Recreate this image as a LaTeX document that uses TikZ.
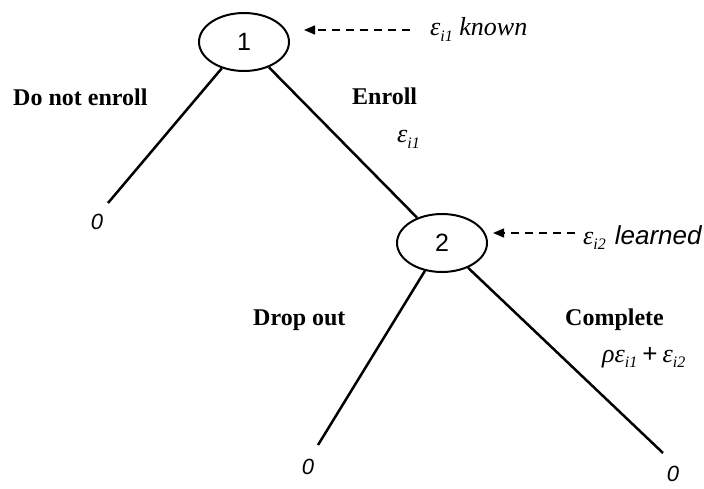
\documentclass[tikz,border=0pt]{standalone}
\usepackage{fontspec}
\setmainfont{Liberation Serif}
\setsansfont{Liberation Sans}
\usetikzlibrary{arrows.meta,shapes.geometric}
% small italic index set below the baseline
\newcommand\lowidx[1]{\raisebox{-0.45ex}{\fontsize{16}{16}\selectfont\itshape #1}}

\begin{document}
\begin{tikzpicture}[x=1pt,y=-1pt,
  choice/.style={ellipse, draw, line width=2pt, minimum width=90pt, minimum height=58pt,
    inner sep=0pt, font=\sffamily\fontsize{25}{25}\selectfont},
  branch/.style={line width=2.5pt},
  act/.style={font=\bfseries\fontsize{24}{24}\selectfont, anchor=base west, inner sep=0pt},
  pay/.style={font=\sffamily\itshape\fontsize{22}{22}\selectfont, inner sep=0pt},
  info/.style={font=\itshape\fontsize{26}{26}\selectfont, anchor=base west, inner sep=0pt},
  hint/.style={line width=1.5pt, dash pattern=on 8pt off 6pt,
    -{Triangle[length=11pt,width=9pt]}}
]
\useasboundingbox (0,0) rectangle (704,489);

% decision nodes
\node[choice] (n1) at (244,42) {1};
\node[choice] (n2) at (442,243) {2};

% leaf ends
\coordinate (z1) at (108,203);
\coordinate (z2) at (318,445);
\coordinate (z3) at (663,453);

\draw[branch] (n1) -- (z1);
\draw[branch] (n1) -- (n2);
\draw[branch] (n2) -- (z2);
\draw[branch] (n2) -- (z3);

% payoffs
\node[pay] (p1) at (97,222) {0};
\node[pay] (p2) at (308,467) {0};
\node[pay] (p3) at (673,474) {0};

% action labels
\node[act] (a1) at (13,106) {Do not enroll};
\node[act] (a2) at (352,105) {Enroll};
\node[act] (a3) at (253,325) {Drop out};
\node[act] (a4) at (565,325) {Complete};

% values along the branches
\node[info] (v1) at (397,143) {ε\lowidx{i1}};
\node[info] (v2) at (602,362) {ρε\lowidx{i1}\hspace{5pt}\textup{\sffamily+}\hspace{5pt}ε\lowidx{i2}};

% information notes
\node[info] (k1) at (430,36) {ε\lowidx{i1} known};
\node[info] (k2) at (583,244) {ε\lowidx{i2}\hspace{9pt}{\sffamily learned}};
\coordinate (t1) at (304,30);
\coordinate (t2) at (493,233);
\draw[hint, shorten <=20pt] (k1.west |- t1) -- (t1);
\draw[hint, shorten <=8pt] (k2.west |- t2) -- (t2);
\end{tikzpicture}
\end{document}
